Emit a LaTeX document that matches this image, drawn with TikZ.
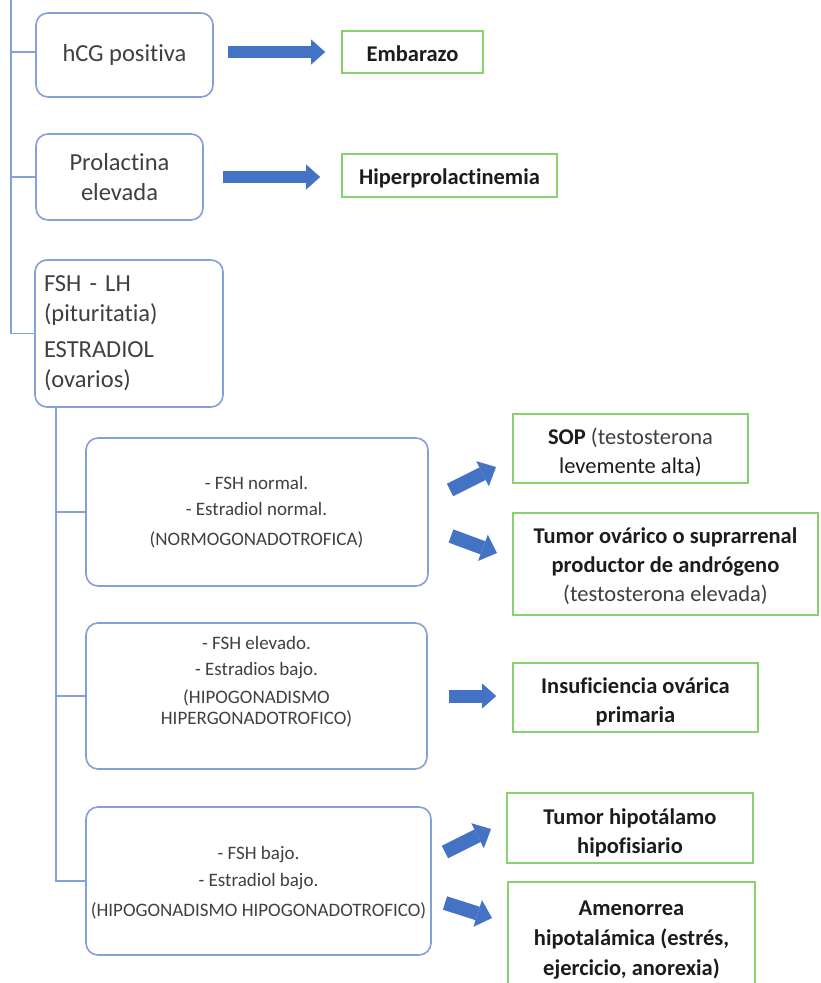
\documentclass[tikz,border=0pt]{standalone}
\usepackage{fontspec}
\setmainfont{Carlito}[Ligatures=NoCommon]
\usetikzlibrary{arrows.meta,calc}

\definecolor{edgeblue}{RGB}{132,160,216}
\definecolor{arrowblue}{RGB}{68,114,196}
\definecolor{edgegreen}{RGB}{136,208,112}
\definecolor{textgray}{RGB}{64,64,64}
\definecolor{textdark}{RGB}{28,28,28}

\tikzset{
  testbox/.style={draw=edgeblue, line width=1.6pt, rounded corners=12pt, inner sep=0pt, text=textgray},
  bigtext/.style={font=\fontsize{24.5}{30}\selectfont},
  smalltext/.style={font=\fontsize{19}{21}\selectfont, text=textgray, align=center, inner sep=0pt},
  resultbox/.style={draw=edgegreen, line width=1.6pt, inner sep=0pt},
  restext/.style={inner sep=0pt, align=center, text=textdark, font=\fontsize{22.5}{29}\selectfont},
  link/.style={draw=edgeblue, line width=1.6pt},
  blockarrow/.style={draw=arrowblue, line width=12pt, -{Triangle[length=14pt, width=25pt, line width=0pt]}},
  slantarrow/.style={draw=arrowblue, line width=14pt, -{Triangle[length=15pt, width=28pt, line width=0pt]}},
}

\begin{document}
\begin{tikzpicture}[x=1pt,y=-1pt]
\useasboundingbox (0,0) rectangle (820,983);
\fill[white] (0,0) rectangle (820,983);

% first level of tests
\node[testbox, bigtext, minimum width=177pt, minimum height=84pt] (hcg) at (124.5,55) {hCG positiva};
\node[testbox, bigtext, align=center, minimum width=167pt, minimum height=86pt] (prl) at (119.5,177) {Prolactina\\elevada};
\node[testbox, bigtext, align=left, text width=170pt, inner xsep=9pt, minimum height=147pt] (fsh) at (129,333.5)
  {FSH - LH\\(pituritatia)\\[6pt]ESTRADIOL\\(ovarios)};

% first level results
\node[resultbox, minimum width=141pt, minimum height=42pt] (emb) at (412.5,52) {};
\node[restext, font=\fontsize{22.5}{29}\selectfont\bfseries] (embtxt) at (412.5,54) {Embarazo};
\node[resultbox, minimum width=215pt, minimum height=43pt] (hpr) at (449.5,175.5) {};
\node[restext, font=\fontsize{22.5}{29}\selectfont\bfseries] (hprtxt) at (449.5,178) {Hiperprolactinemia};

% trunk of the first level
\coordinate (root) at (11,0);
\draw[link] (root) |- (fsh.west);
\draw[link] (root |- emb.west) -- (hcg.west |- emb.west);
\draw[link] (root |- prl.west) -- (prl.west);

% hormone profiles
\node[testbox, minimum width=342pt, minimum height=148pt] (boxA) at (257,512) {};
\node[smalltext] (txtA) at (256.5,512) {- FSH normal.\\[5pt]- Estradiol normal.\\[9pt](NORMOGONADOTROFICA)};
\node[testbox, minimum width=341pt, minimum height=146pt] (boxB) at (256.5,696) {};
\node[smalltext] (txtB) at (256.5,682) {- FSH elevado.\\[5pt]- Estradios bajo.\\[7pt](HIPOGONADISMO\\HIPERGONADOTROFICO)};
\node[testbox, minimum width=345pt, minimum height=148pt] (boxC) at (258.5,881) {};
\node[smalltext] (txtC) at (258.5,883) {- FSH bajo.\\[6pt]- Estradiol bajo.\\[9pt](HIPOGONADISMO HIPOGONADOTROFICO)};

% trunk of the second level
\coordinate (split) at (56,406);
\draw[link] (split) |- (boxC.west);
\draw[link] (split |- boxA.west) -- (boxA.west);
\draw[link] (split |- boxB.west) -- (boxB.west);

% diagnoses
\node[resultbox, minimum width=235pt, minimum height=69pt] (sop) at (630.5,448.5) {};
\node[restext] (soptxt) at (630.5,452.5) {\textbf{SOP} \color{textgray}(testosterona\\levemente alta)};
\node[resultbox, minimum width=305pt, minimum height=102pt] (tov) at (665.5,564) {};
\node[restext] (tovtxt) at (665.5,566.5)
  {\textbf{Tumor ovárico o suprarrenal}\\\textbf{productor de andrógeno}\\\color{textgray}(testosterona elevada)};
\node[resultbox, minimum width=245pt, minimum height=69pt] (ins) at (635.5,697.5) {};
\node[restext, font=\fontsize{22.5}{29}\selectfont\bfseries] (instxt) at (635.5,701.5) {Insuficiencia ovárica\\primaria};
\node[resultbox, minimum width=246pt, minimum height=70pt] (thh) at (630,828) {};
\node[restext, font=\fontsize{22.5}{29}\selectfont\bfseries] (thhtxt) at (630,833) {Tumor hipotálamo\\hipofisiario};
\node[inner sep=0pt, minimum width=247pt, minimum height=101pt] (ame) at (631.5,932.5) {};
\draw[draw=edgegreen, line width=1.6pt] (ame.south west) |- (ame.north east) -- (ame.south east);
\node[restext, font=\fontsize{22.5}{30}\selectfont\bfseries] (ametxt) at (631.5,940) {Amenorrea\\hipotalámica (estrés,\\ejercicio, anorexia)};

% block arrows
\draw[blockarrow, shorten <=14pt, shorten >=16pt] (hcg.east |- emb.west) -- (emb.west);
\draw[blockarrow, shorten <=19pt, shorten >=21pt] (prl.east) -- (prl.east -| hpr.west);
\draw[blockarrow, line width=13pt, shorten <=21pt, shorten >=16pt] (boxB.east) -- (boxB.east -| ins.west);

\coordinate (a3s) at (450,490); \coordinate (a3e) at (496,467);
\coordinate (a4s) at (451,536); \coordinate (a4e) at (497,553);
\coordinate (a6s) at (445,852); \coordinate (a6e) at (491,829);
\coordinate (a7s) at (445,903); \coordinate (a7e) at (492,918);
\draw[slantarrow] (a3s) -- (a3e);
\draw[slantarrow] (a4s) -- (a4e);
\draw[slantarrow] (a6s) -- (a6e);
\draw[slantarrow] (a7s) -- (a7e);
\end{tikzpicture}
\end{document}
